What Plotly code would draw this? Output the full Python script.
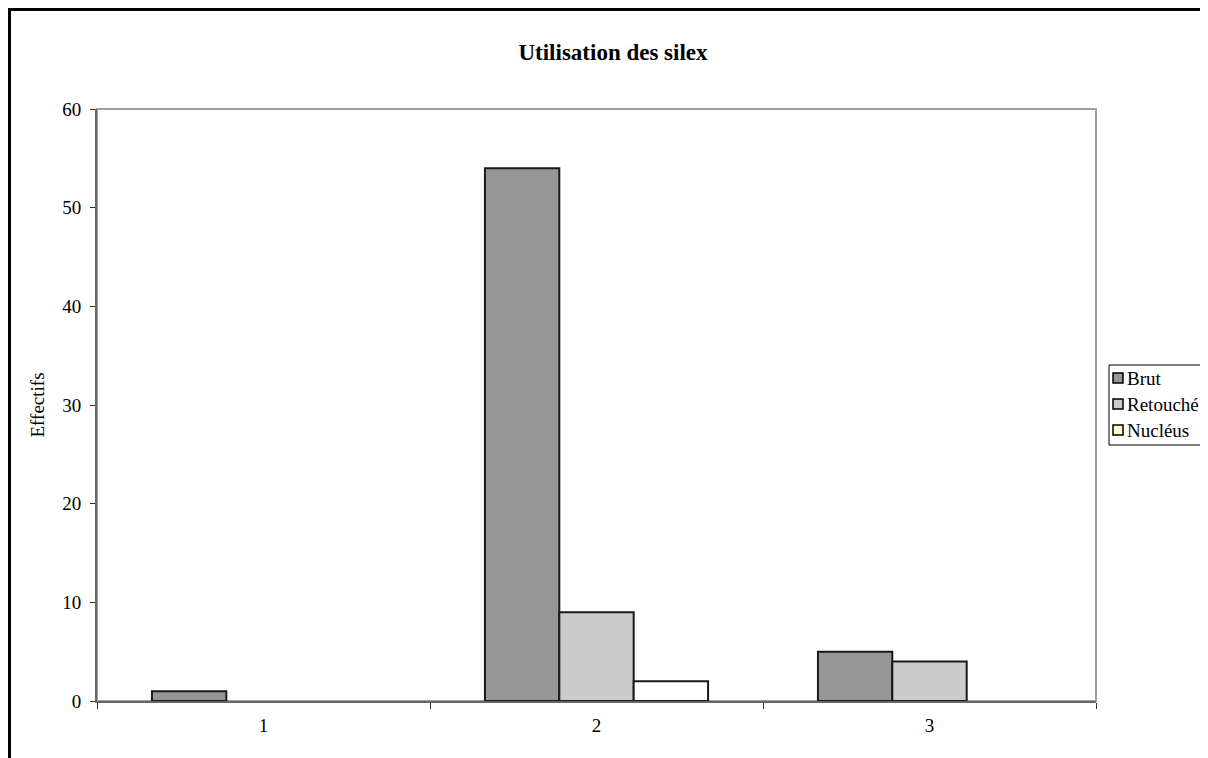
import plotly.graph_objects as go

categories = ["1", "2", "3"]
brut = [1, 54, 5]
retouche = [0, 9, 4]
nucleus = [0, 2, 0]

series_names = ["Brut", "Retouché", "Nucléus"]
bar_colors = ["#969696", "#cccccc", "#ffffff"]
legend_colors = ["#969696", "#cccccc", "#ffffcc"]   # Excel shows Nucléus swatch pale yellow

SERIF = "Liberation Serif, Times New Roman, serif"
W, H = 1208, 758
OFF = 8   # the page body adds an 8px margin, so work in screen pixels minus this
PLOT_X0, PLOT_X1, PLOT_Y0, PLOT_Y1 = 97, 1096, 109, 701   # plot area on screen
L, R = PLOT_X0 - OFF, W - (PLOT_X1 - OFF)
T, B = PLOT_Y0 - OFF, H - (PLOT_Y1 - OFF)


def px(x):
    # screen x -> paper
    return (x - PLOT_X0) / (PLOT_X1 - PLOT_X0)


def py(y):
    # screen y -> paper
    return (PLOT_Y1 - y) / (PLOT_Y1 - PLOT_Y0)


def edge(values):
    # Excel draws nothing for empty (zero) bars
    return [2 if v else 0 for v in values]


fig = go.Figure()
for name, vals, col in zip(series_names, [brut, retouche, nucleus], bar_colors):
    fig.add_trace(go.Bar(x=categories, y=vals, name=name,
                         marker=dict(color=col, line=dict(color="#1a1a1a", width=edge(vals)))))

shapes = [
    # plot area border
    dict(type="rect", xref="paper", yref="paper", x0=0, x1=1, y0=0, y1=1,
         line=dict(color="#a0a0a0", width=2), layer="below"),
    # outer chart frame, cut off at right and bottom
    dict(type="rect", xref="paper", yref="paper", x0=px(9.5), x1=px(1400),
         y0=py(1000), y1=py(9.5), line=dict(color="black", width=3), layer="below"),
    # legend box
    dict(type="rect", xref="paper", yref="paper", x0=px(1109), x1=px(1201),
         y0=py(445), y1=py(365), line=dict(color="black", width=1), fillcolor="white"),
]
annotations = []
for i, (name, col) in enumerate(zip(series_names, legend_colors)):
    yc = 378 + 26 * i
    shapes.append(dict(type="rect", xref="paper", yref="paper",
                       x0=px(1113), x1=px(1123), y0=py(yc + 5), y1=py(yc - 5),
                       line=dict(color="black", width=1.5), fillcolor=col))
    annotations.append(dict(text=name, xref="paper", yref="paper", x=px(1125), y=py(yc),
                            xanchor="left", yanchor="middle", showarrow=False,
                            font=dict(size=19)))

fig.update_layout(
    width=W, height=H,
    paper_bgcolor="white", plot_bgcolor="white",
    margin=dict(l=L, r=R, t=T, b=B),
    barmode="group", bargap=0.33, bargroupgap=0,
    font=dict(family=SERIF, size=19, color="black"),
    title=dict(text="<b>Utilisation des silex</b>", xref="container", yref="container",
               x=(613 - OFF) / W, xanchor="center",
               y=1 - (52 - OFF) / H, yanchor="middle",
               font=dict(size=23)),
    showlegend=False,
    xaxis=dict(showgrid=False, showline=True, linecolor="#666666", linewidth=2,
               ticks="outside", tickson="boundaries", ticklen=6, tickcolor="#333333",
               tickfont=dict(size=19), ticklabelstandoff=6, zeroline=False),
    yaxis=dict(range=[0, 60], dtick=10, showgrid=False, showline=True,
               linecolor="#666666", linewidth=2, ticks="outside", ticklen=5,
               tickcolor="#333333", tickfont=dict(size=19), ticklabelstandoff=5,
               zeroline=False,
               title=dict(text="Effectifs", font=dict(size=19), standoff=13)),
    shapes=shapes,
    annotations=annotations,
)

fig.write_html("out.html")
